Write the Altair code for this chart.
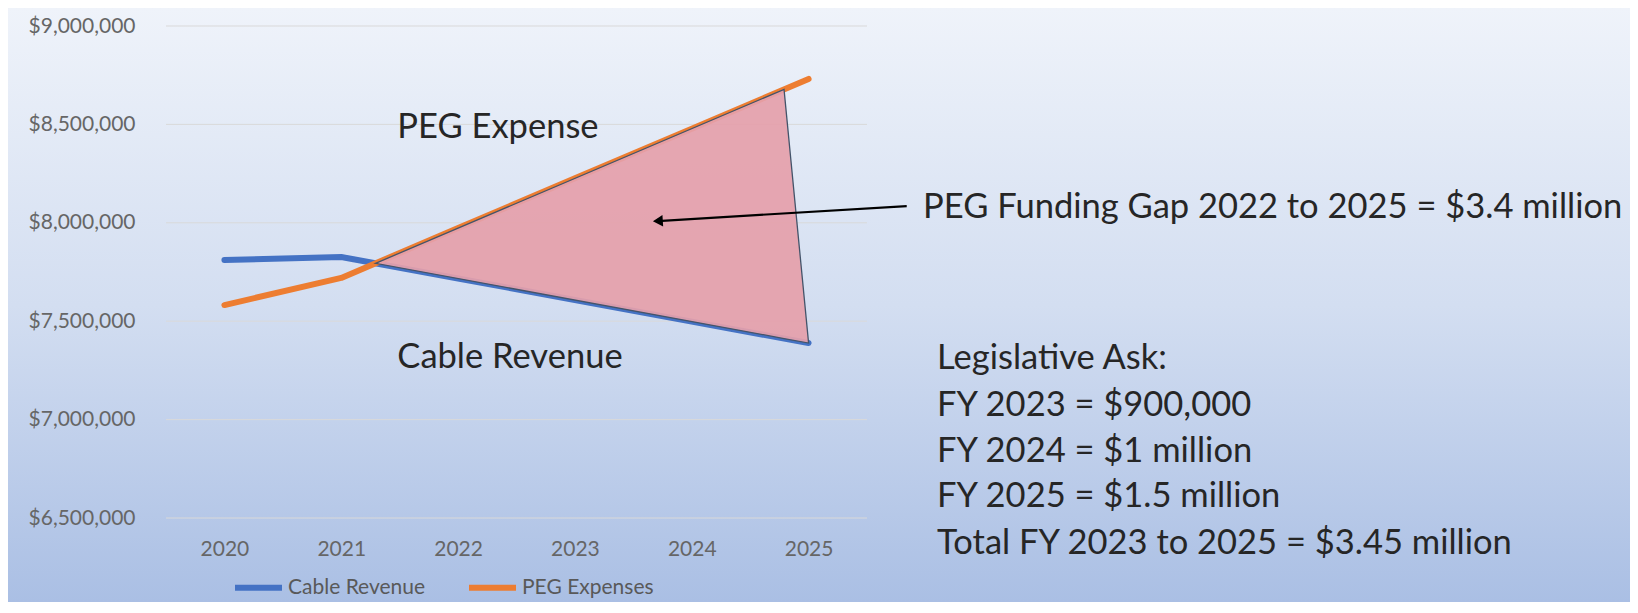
import altair as alt
import pandas as pd

# ---------------- data ----------------
years = [2020, 2021, 2022, 2023, 2024, 2025]
cable_revenue = [7811000, 7826000, 7717000, 7608000, 7498000, 7389000]
peg_expenses = [7582000, 7720000, 7973000, 8226000, 8478000, 8731000]
series_names = ["Cable Revenue", "PEG Expenses"]
series_colors = ["#4472C4", "#ED7D31"]

y_ticks = [6500000, 7000000, 7500000, 8000000, 8500000, 9000000]

# funding-gap triangle (crossing point, top vertex, 2025 revenue)
gap_x = [2021.293, 2024.79, 2025.0]
gap_top = [7794000, 8678000, 7389000]
gap_bottom = [7794000, 7412000, 7389000]

# arrow (tail -> head)
arrow_x = [2025.84]
arrow_y = [8085000]
arrow_x2 = [2023.71]
arrow_y2 = [8009000]

# annotation texts
note_text = [
    "PEG Expense",
    "Cable Revenue",
    "PEG Funding Gap 2022 to 2025 = $3.4 million",
    "Legislative Ask:",
    "FY 2023 = $900,000",
    "FY 2024 = $1 million",
    "FY 2025 = $1.5 million",
    "Total FY 2023 to 2025 = $3.45 million",
]
note_x = [2021.48, 2021.48, 2025.98, 2026.10, 2026.10, 2026.10, 2026.10, 2026.10]
note_y = [8431000, 7262000, 8024000, 7257000, 7018000, 6785000, 6556000, 6317000]

# ---------------- tables ----------------
lines_df = pd.DataFrame({
    "year": years * 2,
    "value": cable_revenue + peg_expenses,
    "series": [series_names[0]] * len(years) + [series_names[1]] * len(years),
})
gap_df = pd.DataFrame({"year": gap_x, "top": gap_top, "bottom": gap_bottom})
arrow_df = pd.DataFrame({"x": arrow_x, "y": arrow_y, "x2": arrow_x2, "y2": arrow_y2})
notes_df = pd.DataFrame({"x": note_x, "y": note_y, "text": note_text})
grid_df = pd.DataFrame({"g": y_ticks})
bg_df = pd.DataFrame({"a": [0]})

W, H = 701, 492
PAD = {"left": 158, "top": 18, "right": 763, "bottom": 84}
FONT = "Lato"

xscale = alt.Scale(domain=[2019.5, 2025.5], nice=False, zero=False)
yscale = alt.Scale(domain=[6500000, 9000000], nice=False, zero=False)
xaxis = alt.Axis(values=years, format="d", title=None, grid=False, domain=False,
                 ticks=False, labelPadding=20, labelFontSize=21, labelFont=FONT,
                 labelColor="#666666", zindex=1)
yaxis = alt.Axis(values=y_ticks, format="$,.0f", title=None, grid=False, domain=False,
                 ticks=False, labelPadding=31, labelFontSize=21, labelFont=FONT,
                 labelColor="#666666", zindex=1)


def X(field):
    return alt.X(field, type="quantitative", scale=xscale, axis=xaxis)


def Y(field):
    return alt.Y(field, type="quantitative", scale=yscale, axis=yaxis)


background = alt.Chart(bg_df).mark_rect(
    fill={
        "gradient": "linear",
        "x1": 0, "y1": 0, "x2": 0, "y2": 1,
        "stops": [
            {"offset": 0, "color": "#EFF3FA"},
            {"offset": 0.5, "color": "#D3DEF1"},
            {"offset": 1, "color": "#AABFE4"},
        ],
    },
    strokeWidth=0,
).encode(
    x=alt.value(-PAD["left"]),
    x2=alt.value(W + PAD["right"]),
    y=alt.value(-PAD["top"]),
    y2=alt.value(H + PAD["bottom"]),
)

grid = alt.Chart(grid_df).mark_rule(color="#D9D9D9", strokeWidth=1).encode(
    y=Y("g"), x=alt.value(0), x2=alt.value(W)
)

lines = alt.Chart(lines_df).mark_line(strokeWidth=6, strokeCap="round", strokeJoin="round").encode(
    x=X("year"),
    y=Y("value"),
    color=alt.Color(
        "series:N",
        scale=alt.Scale(domain=series_names, range=series_colors),
        legend=alt.Legend(
            title=None, orient="none", legendX=66, legendY=535, direction="horizontal",
            symbolType="stroke", symbolSize=2209, symbolStrokeWidth=6,
            labelFontSize=21, labelFont=FONT, labelColor="#595959", labelOffset=3,
            columnPadding=31, padding=0, zindex=1,
        ),
    ),
    order="year:Q",
)

gap = alt.Chart(gap_df).mark_area(
    fill="#E59FAA", fillOpacity=0.92, stroke="#44546A", strokeWidth=1.3
).encode(x=X("year"), y=Y("top"), y2="bottom")

arrow = alt.Chart(arrow_df).mark_rule(color="#000000", strokeWidth=2.2).encode(
    x=X("x"), y=Y("y"), x2="x2", y2="y2"
)

arrow_head = alt.Chart(arrow_df).mark_point(
    shape="triangle-left", filled=True, color="#000000", opacity=1, size=130, angle=356.6
).encode(x=X("x2"), y=Y("y2"))

notes = alt.Chart(notes_df).mark_text(
    align="left", baseline="alphabetic", fontSize=34.5, font=FONT, color="#262626"
).encode(x=X("x"), y=Y("y"), text="text:N")

chart = alt.layer(background, grid, lines, gap, arrow, arrow_head, notes).properties(
    width=W,
    height=H,
    autosize=alt.AutoSizeParams(type="none"),
    padding=PAD,
).configure_view(stroke=None).configure(background="#D3DEF1")

chart.save("out.html", embed_options={"renderer": "svg", "actions": False})
